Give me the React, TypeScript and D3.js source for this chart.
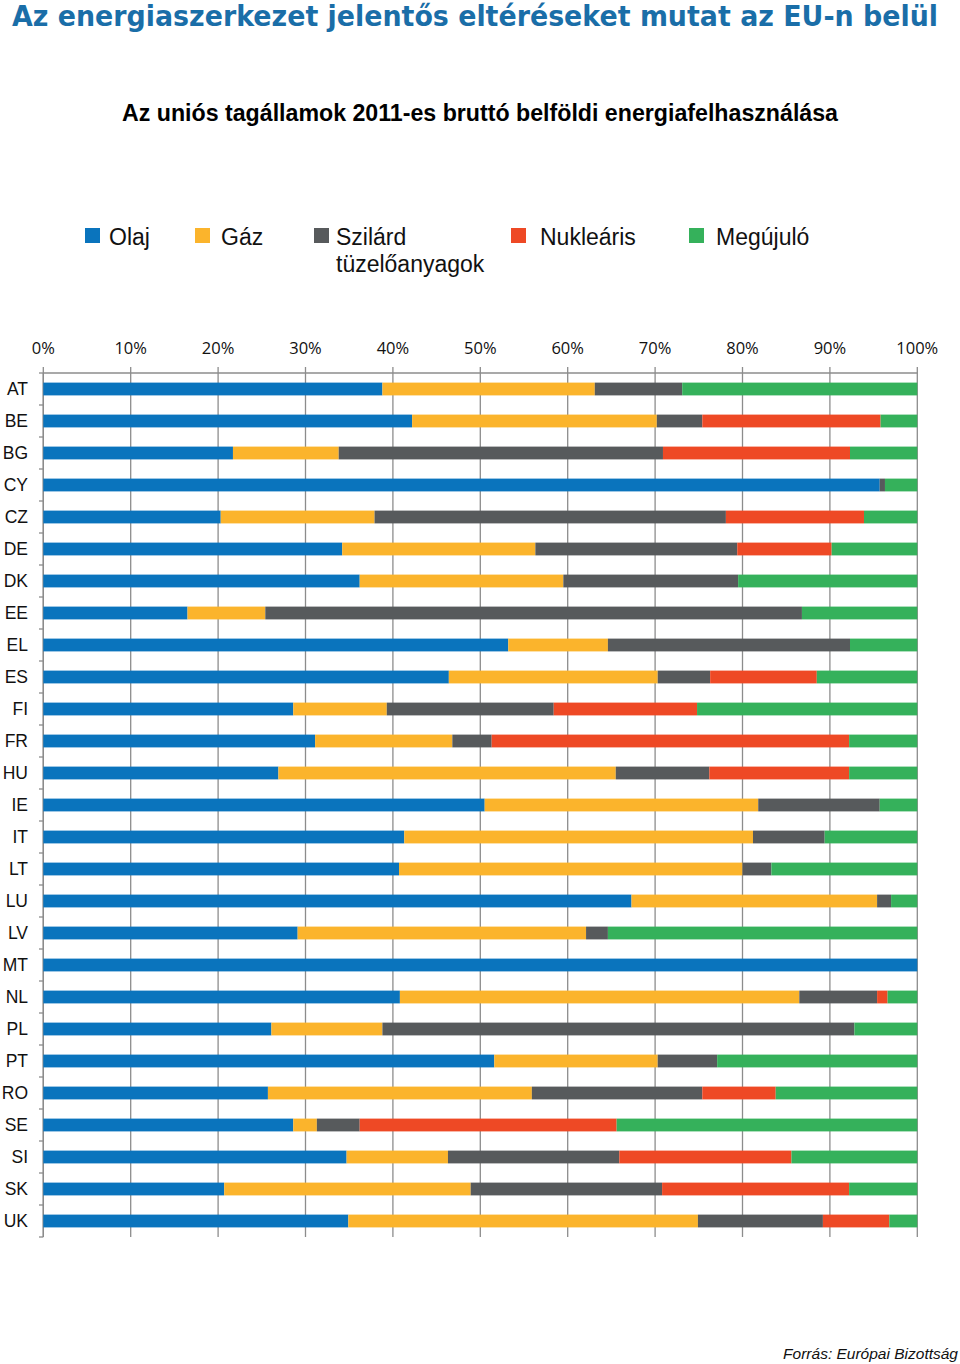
import React from "react";
import * as d3 from "d3";

const countries = ["AT","BE","BG","CY","CZ","DE","DK","EE","EL","ES","FI","FR","HU","IE","IT","LT","LU","LV","MT","NL","PL","PT","RO","SE","SI","SK","UK"];
const olaj =      [38.8,42.2,21.7,95.7,20.3,34.2,36.2,16.5,53.2,46.4,28.6,31.1,26.9,50.5,41.3,40.7,67.3,29.1,100,40.8,26.1,51.6,25.7,28.6,34.7,20.7,34.9];
const gaz =       [24.3,28.0,12.1,0,17.6,22.1,23.3,8.9,11.4,23.9,10.7,15.7,38.6,31.3,39.9,39.3,28.1,33.0,0,45.7,12.7,18.7,30.2,2.7,11.6,28.2,40.0];
const szilard =   [10.0,5.2,37.1,0.6,40.2,23.1,20.0,61.4,27.7,6.0,19.1,4.5,10.7,13.9,8.2,3.3,1.6,2.5,0,8.9,54.0,6.8,19.5,4.9,19.6,21.9,14.3];
const nuklearis = [0,20.4,21.4,0,15.8,10.8,0,0,0,12.2,16.4,40.9,16.0,0,0,0,0,0,0,1.2,0,0,8.4,29.4,19.7,21.4,7.6];
const megujulo =  [26.9,4.2,7.7,3.7,6.1,9.8,20.5,13.2,7.7,11.5,25.2,7.8,7.8,4.3,10.6,16.7,3.0,35.4,0,3.4,7.2,22.9,16.2,34.4,14.4,7.8,3.2];

const seriesNames = ["Olaj","Gáz","Szilárd tüzelőanyagok","Nukleáris","Megújuló"];
const seriesColors = ["#0a74bd","#fbb42c","#575a5c","#ee4925","#35b15b"];
const xTicks = [0,10,20,30,40,50,60,70,80,90,100];

export default function App() {
  const W = 960, H = 1364;
  const x = d3.scaleLinear().domain([0, 100]).range([43.3, 917.3]);
  const y = d3.scaleBand<string>().domain(countries).range([373, 1237]).paddingInner(0.6).paddingOuter(0.3);
  const rows = countries.map((c, i) => ({ c, vals: [olaj[i], gaz[i], szilard[i], nuklearis[i], megujulo[i]] }));
  const stack = d3.stack<any>().keys(["0","1","2","3","4"]).value((d: any, k: string) => d.vals[+k]);
  const stacked = stack(rows as any);
  const step = y.step();
  const boundaries = d3.range(countries.length + 1).map((i) => 373 + i * step);

  const legendItems = [
    { sx: 85, tx: 109, lines: ["Olaj"] },
    { sx: 195, tx: 221, lines: ["Gáz"] },
    { sx: 314, tx: 336, lines: ["Szilárd", "tüzelőanyagok"] },
    { sx: 511, tx: 540, lines: ["Nukleáris"] },
    { sx: 689, tx: 716, lines: ["Megújuló"] },
  ];

  return (
    <svg width={W} height={H} style={{ position: "absolute", left: 0, top: 0, background: "#fff" }}>
      <rect width={W} height={H} fill="#fff" />
      <text x={12} y={26} fontFamily="DejaVu Sans" fontWeight="bold" fontSize={28} fill="#1a6ea8" textLength={926} lengthAdjust="spacingAndGlyphs">Az energiaszerkezet jelentős eltéréseket mutat az EU-n belül</text>
      <text x={122} y={121} fontFamily="Liberation Sans, Arial" fontWeight="bold" fontSize={23} fill="#000" textLength={716} lengthAdjust="spacingAndGlyphs">Az uniós tagállamok 2011-es bruttó belföldi energiafelhasználása</text>

      {legendItems.map((it, i) => (
        <g key={i}>
          <rect x={it.sx} y={228} width={15} height={15} fill={seriesColors[i]} />
          {it.lines.map((l, j) => (
            <text key={j} x={it.tx} y={245 + j * 27} fontFamily="Liberation Sans, Arial" fontSize={23} fill="#111">{l}</text>
          ))}
        </g>
      ))}

      {xTicks.map((t) => (
        <g key={t}>
          <line x1={x(t)} x2={x(t)} y1={367} y2={1237} stroke="#8c8c8c" strokeWidth={1.3} />
          <text x={x(t)} y={354} textAnchor="middle" fontFamily="Open Sans, Liberation Sans" fontSize={16.5} fill="#111">{t + "%"}</text>
        </g>
      ))}
      <line x1={43.3} x2={917.3} y1={373} y2={373} stroke="#8c8c8c" strokeWidth={1.3} />
      <line x1={43.3} x2={43.3} y1={373} y2={1237} stroke="#8c8c8c" strokeWidth={1.3} />
      {boundaries.map((b, i) => (
        <line key={i} x1={39} x2={43.3} y1={b} y2={b} stroke="#8c8c8c" strokeWidth={1.3} />
      ))}

      {stacked.map((s, si) => (
        <g key={si} fill={seriesColors[si]}>
          {s.map((d: any, i: number) => (
            d[1] - d[0] > 0 ? (
              <rect key={i} x={x(d[0])} y={y(countries[i])} width={x(d[1]) - x(d[0])} height={y.bandwidth()} />
            ) : null
          ))}
        </g>
      ))}

      {countries.map((c) => (
        <text key={c} x={28} y={(y(c) as number) + y.bandwidth() / 2 + 6} textAnchor="end" fontFamily="Liberation Sans, Arial" fontSize={17.5} fill="#111">{c}</text>
      ))}

      <text x={958} y={1359} textAnchor="end" fontFamily="Liberation Sans, Arial" fontStyle="italic" fontSize={15.5} fill="#111">Forrás: Európai Bizottság</text>
    </svg>
  );
}
